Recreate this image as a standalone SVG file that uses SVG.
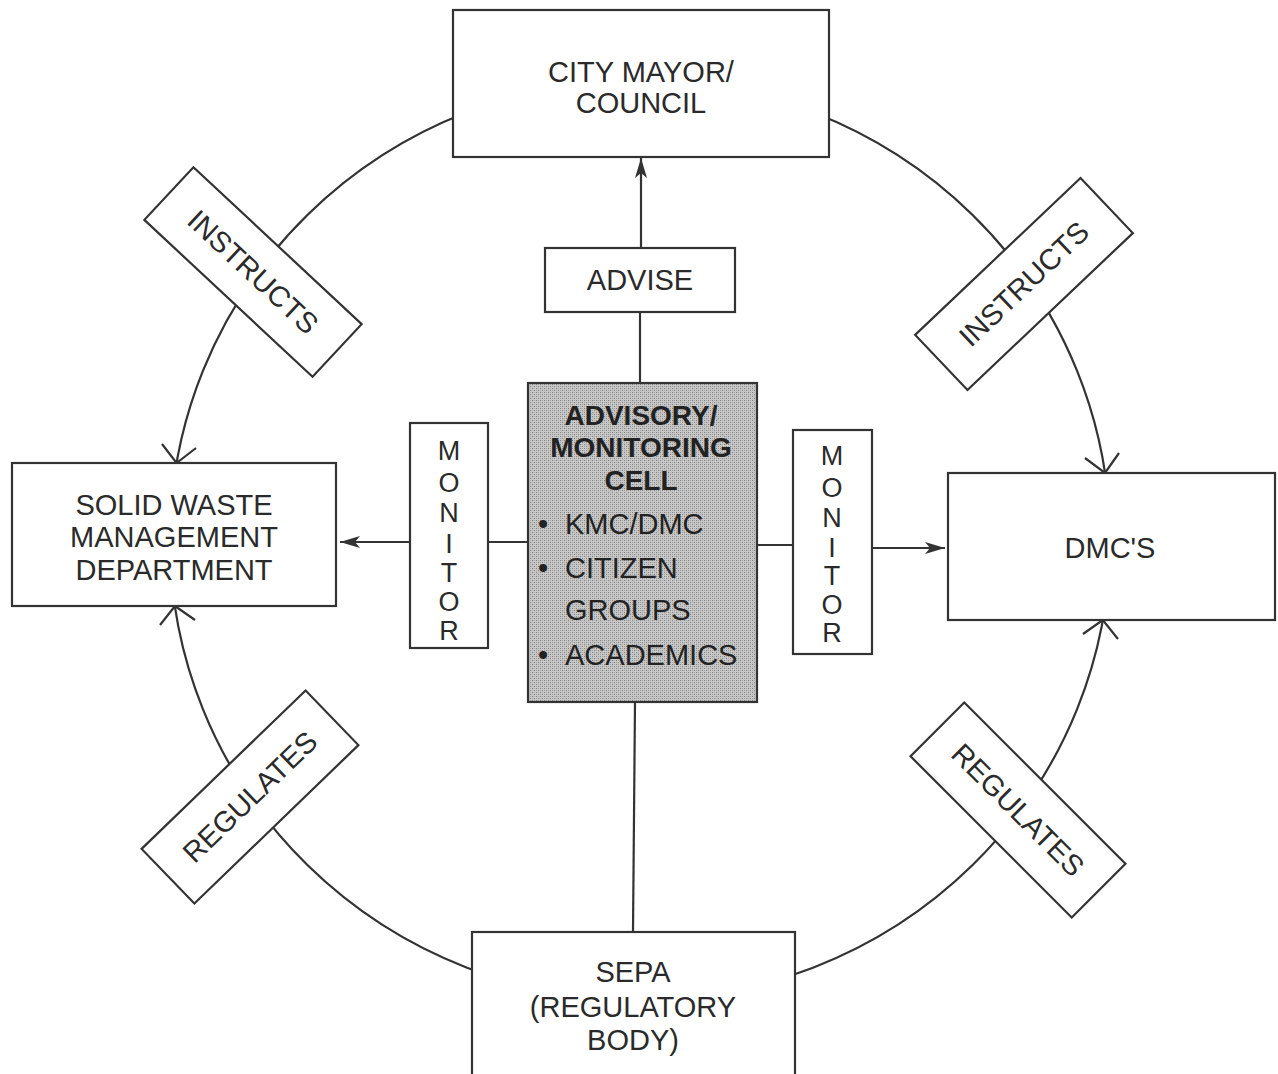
<svg xmlns="http://www.w3.org/2000/svg" width="1278" height="1074" viewBox="0 0 1278 1074">
<defs>
<style>
.box{fill:#fff;stroke:#333;stroke-width:2.2}
.ln{fill:none;stroke:#333;stroke-width:2.2}
.t{font-family:"Liberation Sans",Arial,sans-serif;font-size:29px;fill:#2a2a2a;text-anchor:middle}
.tb{font-family:"Liberation Sans",Arial,sans-serif;font-size:28px;font-weight:bold;fill:#222;text-anchor:middle}
.tl{font-family:"Liberation Sans",Arial,sans-serif;font-size:29px;fill:#222;text-anchor:start}
.m{font-family:"Liberation Sans",Arial,sans-serif;font-size:27px;fill:#2a2a2a;text-anchor:middle}
.rt{font-family:"Liberation Sans",Arial,sans-serif;font-size:29px;fill:#2a2a2a;text-anchor:middle;dominant-baseline:central}
</style>
<pattern id="stip" width="4" height="4" patternUnits="userSpaceOnUse">
<rect width="4" height="4" fill="#c8c8c8"/>
<rect x="0" y="0" width="1" height="1" fill="#7e7e7e"/>
<rect x="2" y="2" width="1" height="1" fill="#7e7e7e"/>
<rect x="2" y="0" width="1" height="1" fill="#a4a4a4"/>
<rect x="0" y="2" width="1" height="1" fill="#a4a4a4"/>
</pattern>
<marker id="ah" viewBox="0 0 20 12" refX="20" refY="6" markerWidth="20" markerHeight="12" markerUnits="userSpaceOnUse" orient="auto">
<path d="M0,0 L20,6 L0,12 L5,6 Z" fill="#333"/>
</marker>
</defs>

<g id="connectors">
<ellipse class="ln" cx="640" cy="540" rx="470" ry="460"/>
<line class="ln" x1="641" y1="248" x2="641" y2="158" marker-end="url(#ah)"/>
<line class="ln" x1="640" y1="312" x2="640" y2="383"/>
<line class="ln" x1="635" y1="702" x2="633" y2="932"/>
<line class="ln" x1="528" y1="542" x2="488" y2="542"/>
<line class="ln" x1="410" y1="542" x2="340" y2="542" marker-end="url(#ah)"/>
<line class="ln" x1="757" y1="545" x2="793" y2="545"/>
<line class="ln" x1="872" y1="548" x2="945" y2="548" marker-end="url(#ah)"/>
<polyline class="ln" points="196,448 176.6,463 162,444"/>
<polyline class="ln" points="160,625 175,606 195,620"/>
<polyline class="ln" points="1085,458 1105,473 1119,453"/>
<polyline class="ln" points="1118,639 1102.8,620 1083,634"/>
</g>

<g id="city-mayor">
<rect class="box" x="453" y="10" width="376" height="147"/>
<text class="t" x="641" y="82">CITY MAYOR/</text>
<text class="t" x="641" y="113">COUNCIL</text>
</g>

<g id="advise">
<rect class="box" x="545" y="248" width="190" height="64"/>
<text class="t" x="640" y="290">ADVISE</text>
</g>

<g id="cell">
<rect x="528" y="383" width="229" height="319" fill="url(#stip)" stroke="#333" stroke-width="2.2"/>
<text class="tb" x="641" y="425">ADVISORY/</text>
<text class="tb" x="641" y="457">MONITORING</text>
<text class="tb" x="641" y="490">CELL</text>
<text class="tl" x="538" y="534">•</text>
<text class="tl" x="565" y="534">KMC/DMC</text>
<text class="tl" x="538" y="578">•</text>
<text class="tl" x="565" y="578">CITIZEN</text>
<text class="tl" x="565" y="620">GROUPS</text>
<text class="tl" x="538" y="665">•</text>
<text class="tl" x="565" y="665">ACADEMICS</text>
</g>

<g id="monitor-left">
<rect class="box" x="410" y="423" width="78" height="225"/>
<text class="m" x="449" y="460">M</text>
<text class="m" x="449" y="492">O</text>
<text class="m" x="449" y="522">N</text>
<text class="m" x="449" y="553">I</text>
<text class="m" x="449" y="582">T</text>
<text class="m" x="449" y="611">O</text>
<text class="m" x="449" y="640">R</text>
</g>

<g id="monitor-right">
<rect class="box" x="793" y="430" width="79" height="224"/>
<text class="m" x="832" y="465">M</text>
<text class="m" x="832" y="497">O</text>
<text class="m" x="832" y="527">N</text>
<text class="m" x="832" y="557">I</text>
<text class="m" x="832" y="585">T</text>
<text class="m" x="832" y="614">O</text>
<text class="m" x="832" y="642">R</text>
</g>

<g id="swm">
<rect class="box" x="12" y="463" width="324" height="143"/>
<text class="t" x="174" y="515">SOLID WASTE</text>
<text class="t" x="174" y="547">MANAGEMENT</text>
<text class="t" x="174" y="580">DEPARTMENT</text>
</g>

<g id="dmcs">
<rect class="box" x="948" y="473" width="327" height="147"/>
<text class="t" x="1110" y="558">DMC'S</text>
</g>

<g id="sepa">
<rect class="box" x="472" y="932" width="323" height="150"/>
<text class="t" x="633" y="982">SEPA</text>
<text class="t" x="633" y="1017">(REGULATORY</text>
<text class="t" x="633" y="1050">BODY)</text>
</g>

<g id="instructs-left" transform="translate(253,272) rotate(43)">
<rect class="box" x="-115" y="-36" width="230" height="72"/>
<text class="rt" x="0" y="0">INSTRUCTS</text>
</g>

<g id="instructs-right" transform="translate(1024,284) rotate(-43.5)">
<rect class="box" x="-114" y="-38" width="228" height="76"/>
<text class="rt" x="0" y="0">INSTRUCTS</text>
</g>

<g id="regulates-left" transform="translate(250,797) rotate(-44)">
<rect class="box" x="-114" y="-38" width="228" height="76"/>
<text class="rt" x="0" y="0">REGULATES</text>
</g>

<g id="regulates-right" transform="translate(1018,810) rotate(45)">
<rect class="box" x="-114" y="-38" width="228" height="76"/>
<text class="rt" x="0" y="0">REGULATES</text>
</g>
</svg>
